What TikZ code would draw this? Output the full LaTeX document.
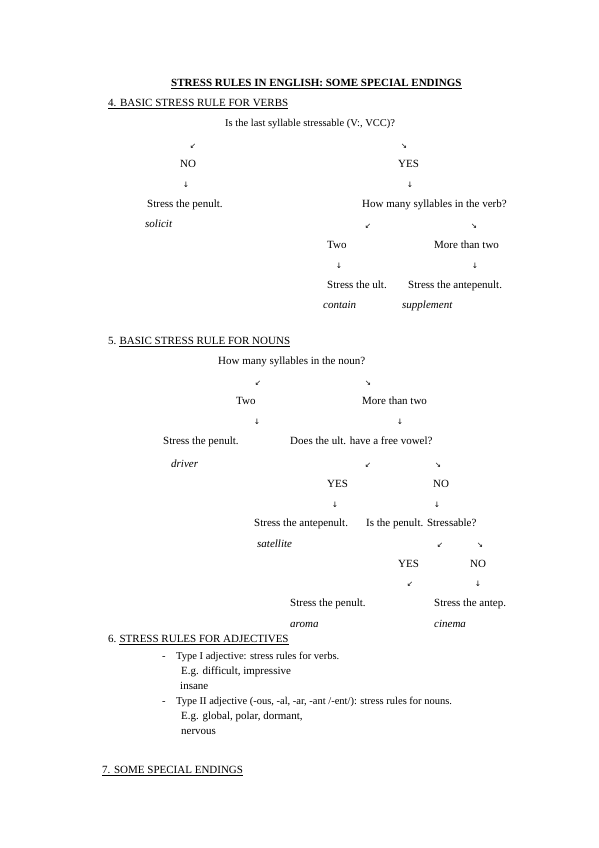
\documentclass[tikz,border=0pt]{standalone}
\usepackage{fontspec}
\setmainfont{Liberation Serif}
\newfontfamily\arrowfont{DejaVu Sans}
\usetikzlibrary{positioning}

\tikzset{
  txt/.style={anchor=mid west, inner sep=0pt, font=\fontsize{11}{13}\selectfont},
  smalltxt/.style={txt, font=\fontsize{10.5}{12}\selectfont},
  ex/.style={txt, font=\fontsize{11}{13}\selectfont\itshape},
  head/.style={txt, font=\fontsize{11}{13}\selectfont},
  arr/.style={inner sep=0pt, font=\arrowfont\fontsize{7.5}{8}\selectfont},
  uline/.style={line width=0.5pt}
}

\begin{document}
\begin{tikzpicture}[x=1pt,y=-1pt]
\fill[white] (0,0) rectangle (599,848);
\useasboundingbox (0,0) rectangle (599,848);
% title
\node[head, font=\fontsize{11}{13}\selectfont\bfseries] (title) at (171,84) {STRESS RULES IN ENGLISH: SOME SPECIAL ENDINGS};
\draw[uline] ([yshift=-1.5pt]title.base west) -- ([yshift=-1.5pt]title.base east);
% 4. verbs
\node[head] (h4) at (108,104) {4. BASIC STRESS RULE FOR VERBS\ };
\draw[uline] ([yshift=-1.5pt]h4.base west) -- ([yshift=-1.5pt]h4.base east);
\node[smalltxt] (vq) at (225,124) {Is the last syllable stressable (V:, VCC)?};
\node[arr] (va1) at (193,146) {↙};
\node[arr] (va2) at (404,146) {↘};
\node[txt] (vno) at (180,165) {NO};
\node[txt] (vyes) at (398,165) {YES};
\node[arr] (va3) at (186,185) {↓};
\node[arr] (va4) at (410,185) {↓};
\node[txt] (vpen) at (147,205) {Stress the penult.};
\node[txt] (vq2) at (362,205) {How many syllables in the verb?};
\node[ex] (solicit) at (145,225) {solicit};
\node[arr] (va5) at (368,226) {↙};
\node[arr] (va6) at (474,226) {↘};
\node[txt] (vtwo) at (327,246) {Two};
\node[txt] (vmore) at (434,246) {More than two};
\node[arr] (va7) at (339,266) {↓};
\node[arr] (va8) at (475,266) {↓};
\node[txt] (vult) at (327,286) {Stress the ult.};
\node[txt] (vante) at (408,286) {Stress the antepenult.};
\node[ex] (contain) at (323,306) {contain};
\node[ex] (supplement) at (402,306) {supplement};
% 5. nouns
\node[head] (h5n) at (108,342) {5.};
\node[head, anchor=base west] (h5) at ([xshift=2.75pt]h5n.base east) {BASIC STRESS RULE FOR NOUNS};
\draw[uline] ([yshift=-1.5pt]h5.base west) -- ([yshift=-1.5pt]h5.base east);
\node[txt] (nq) at (218,362) {How many syllables in the noun?};
\node[arr] (na1) at (258,383) {↙};
\node[arr] (na2) at (368,383) {↘};
\node[txt] (ntwo) at (236,402) {Two};
\node[txt] (nmore) at (362,402) {More than two};
\node[arr] (na3) at (257,422) {↓};
\node[arr] (na4) at (400,422) {↓};
\node[txt] (npen) at (163,442) {Stress the penult.};
\node[txt] (nq2) at (290,442) {Does the ult. have a free vowel?};
\node[ex] (driver) at (171,465) {driver};
\node[arr] (na5) at (368,465) {↙};
\node[arr] (na6) at (438,465) {↘};
\node[txt] (nyes) at (327,485) {YES};
\node[txt] (nno) at (433,485) {NO};
\node[arr] (na7) at (335,505) {↓};
\node[arr] (na8) at (437,505) {↓};
\node[txt] (nante) at (254,524) {Stress the antepenult.};
\node[txt] (nq3) at (366,524) {Is the penult. Stressable?};
\node[ex] (satellite) at (257,545) {satellite};
\node[arr] (na9) at (440,545) {↙};
\node[arr] (na10) at (480,545) {↘};
\node[txt] (nyes2) at (398,565) {YES};
\node[txt] (nno2) at (470,565) {NO};
\node[arr] (na11) at (410,584) {↙};
\node[arr] (na12) at (478,584) {↓};
\node[txt] (npen2) at (290,604) {Stress the penult.};
\node[txt] (nantep) at (434,604) {Stress the antep.};
\node[ex] (aroma) at (290,625) {aroma};
\node[ex] (cinema) at (434,625) {cinema};
% 6. adjectives
\node[head] (h6n) at (108,640) {6.};
\node[head, anchor=base west] (h6) at ([xshift=2.75pt]h6n.base east) {STRESS RULES FOR ADJECTIVES};
\draw[uline] ([yshift=-1.5pt]h6.base west) -- ([yshift=-1.5pt]h6.base east);
\node[smalltxt] (d1) at (162,657) {-};
\node[smalltxt] (adj1) at (176,657) {Type I adjective: stress rules for verbs.};
\node[txt] (eg1) at (181,672) {E.g. difficult, impressive};
\node[txt] (insane) at (180,687) {insane};
\node[smalltxt] (d2) at (162,702) {-};
\node[smalltxt] (adj2) at (176,702) {Type II adjective (-ous, -al, -ar, -ant /-ent/): stress rules for nouns.};
\node[txt] (eg2) at (181,717) {E.g. global, polar, dormant,};
\node[txt] (nervous) at (181,732) {nervous};
% 7. endings
\node[head] (h7) at (102,771) {7. SOME SPECIAL ENDINGS};
\draw[uline] ([yshift=-1.5pt]h7.base west) -- ([yshift=-1.5pt]h7.base east);
\end{tikzpicture}
\end{document}
